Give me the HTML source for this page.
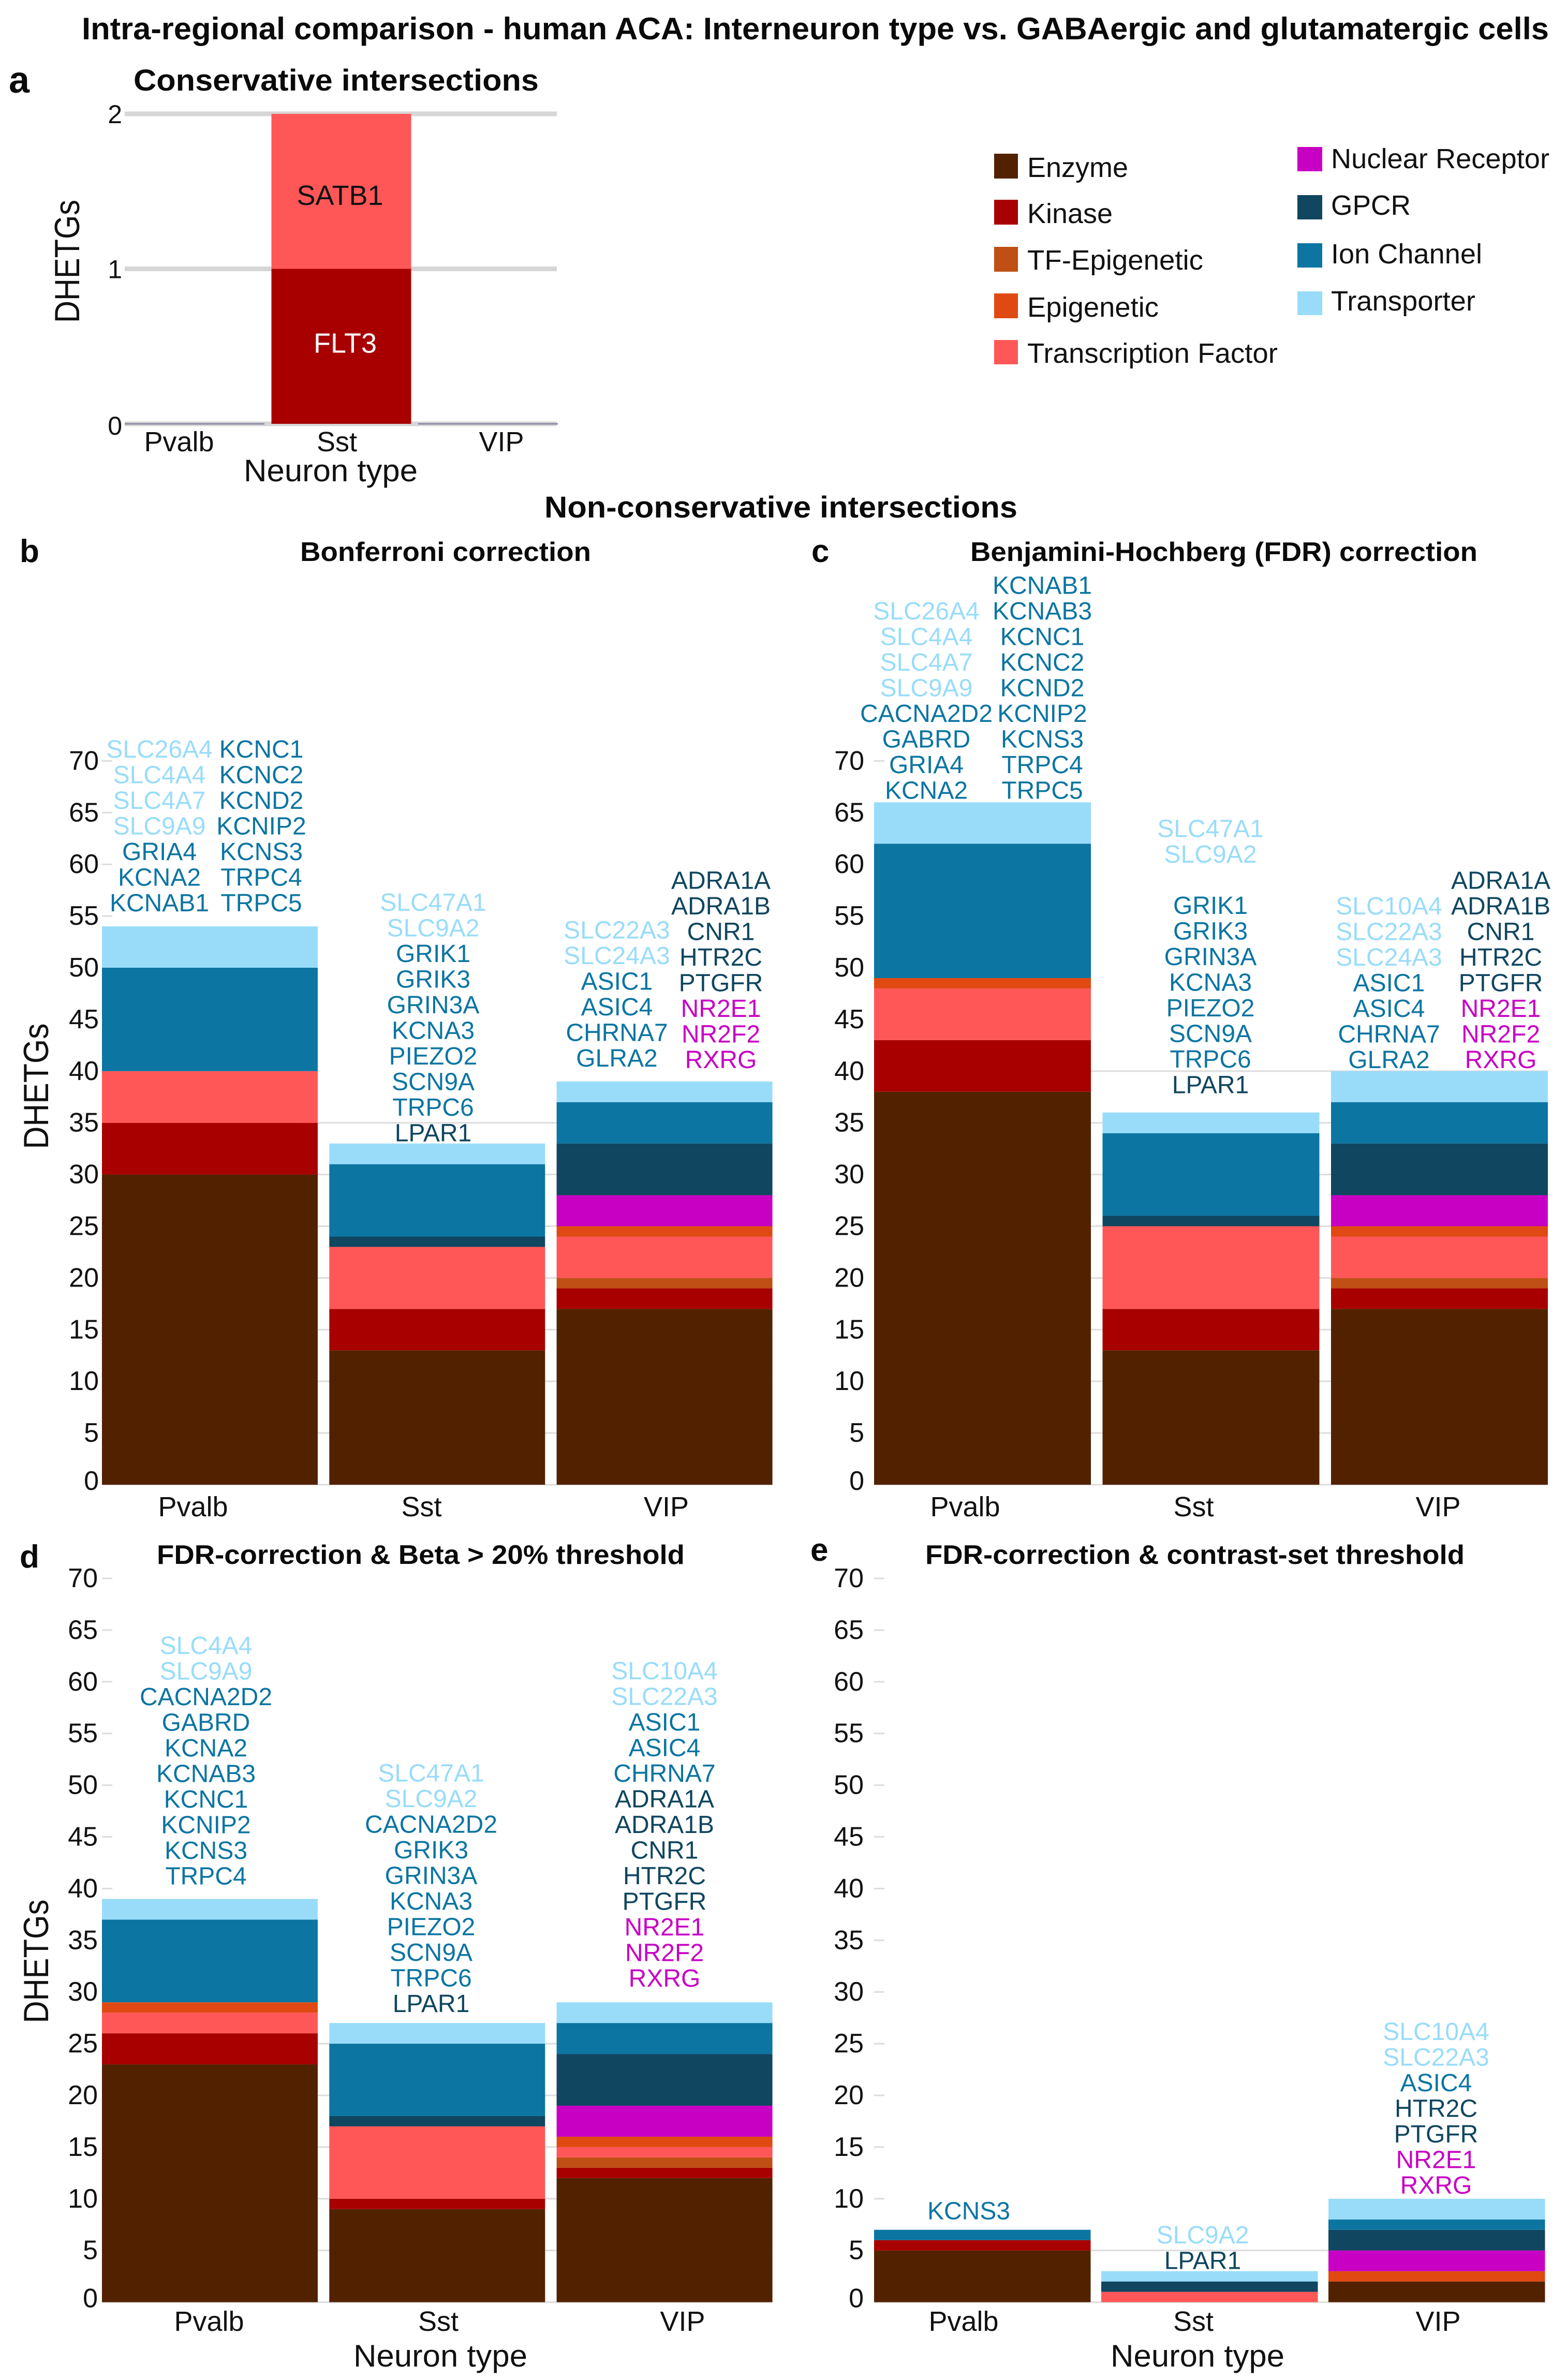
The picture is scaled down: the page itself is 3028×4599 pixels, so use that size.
<!DOCTYPE html>
<html lang="en">
<head>
<meta charset="utf-8">
<title>Intra-regional comparison - human ACA</title>
<style>
html,body{margin:0;padding:0;background:#fff;}
svg{display:block;font-family:"Liberation Sans",Arial,sans-serif;}
.ttl{font-weight:700;fill:#0a0a0a;}
.leg{font-size:54px;fill:#111;}
</style>
</head>
<body>
<svg id="figure" xmlns="http://www.w3.org/2000/svg" width="3028" height="4599" viewBox="0 0 3028 4599">
<rect x="0" y="0" width="3028" height="4599" fill="#ffffff"/>
<text class="ttl" x="158" y="76" font-size="60" textLength="2835" lengthAdjust="spacingAndGlyphs">Intra-regional comparison - human ACA: Interneuron type vs. GABAergic and glutamatergic cells</text>
<text class="ttl" x="17" y="179" font-size="72">a</text>
<text class="ttl" x="258" y="175" font-size="58" textLength="783" lengthAdjust="spacingAndGlyphs">Conservative intersections</text>
<text class="ttl" x="1052" y="1000" font-size="58" textLength="914" lengthAdjust="spacingAndGlyphs">Non-conservative intersections</text>
<text class="ttl" x="38" y="1086" font-size="62">b</text>
<text class="ttl" x="580" y="1084" font-size="52" textLength="562" lengthAdjust="spacingAndGlyphs">Bonferroni correction</text>
<text class="ttl" x="1568" y="1086" font-size="62">c</text>
<text class="ttl" x="1875" y="1084" font-size="52" textLength="980" lengthAdjust="spacingAndGlyphs">Benjamini-Hochberg (FDR) correction</text>
<text class="ttl" x="38" y="3029" font-size="62">d</text>
<text class="ttl" x="303" y="3022" font-size="52" textLength="1020" lengthAdjust="spacingAndGlyphs">FDR-correction &amp; Beta &gt; 20% threshold</text>
<text class="ttl" x="1566" y="3016" font-size="62">e</text>
<text class="ttl" x="1788" y="3022" font-size="52" textLength="1042" lengthAdjust="spacingAndGlyphs">FDR-correction &amp; contrast-set threshold</text>

<g>
<rect x="1921" y="297" width="46" height="48" fill="#522200"/>
<text class="leg" x="1985" y="342" textLength="195" lengthAdjust="spacingAndGlyphs">Enzyme</text>
<rect x="1921" y="386" width="46" height="48" fill="#a80000"/>
<text class="leg" x="1985" y="431" textLength="165" lengthAdjust="spacingAndGlyphs">Kinase</text>
<rect x="1921" y="477" width="46" height="48" fill="#bf4f14"/>
<text class="leg" x="1985" y="521" textLength="340" lengthAdjust="spacingAndGlyphs">TF-Epigenetic</text>
<rect x="1921" y="567" width="46" height="48" fill="#e04a12"/>
<text class="leg" x="1985" y="612" textLength="254" lengthAdjust="spacingAndGlyphs">Epigenetic</text>
<rect x="1921" y="657" width="46" height="47" fill="#ff5757"/>
<text class="leg" x="1985" y="701" textLength="484" lengthAdjust="spacingAndGlyphs">Transcription Factor</text>
<rect x="2507" y="284" width="48" height="47" fill="#c800c4"/>
<text class="leg" x="2572" y="325" textLength="422" lengthAdjust="spacingAndGlyphs">Nuclear Receptor</text>
<rect x="2507" y="377" width="48" height="47" fill="#10465f"/>
<text class="leg" x="2572" y="415" textLength="154" lengthAdjust="spacingAndGlyphs">GPCR</text>
<rect x="2507" y="470" width="48" height="47" fill="#0c75a2"/>
<text class="leg" x="2572" y="509" textLength="292" lengthAdjust="spacingAndGlyphs">Ion Channel</text>
<rect x="2507" y="563" width="48" height="46" fill="#99dcfa"/>
<text class="leg" x="2572" y="600" textLength="279" lengthAdjust="spacingAndGlyphs">Transporter</text>
</g>
</svg>

<script>
// ---------- shared data ----------
const categories = ['Pvalb', 'Sst', 'VIP'];
const classNames = ['Enzyme', 'Kinase', 'TF-Epigenetic', 'Transcription Factor', 'Epigenetic', 'Nuclear Receptor', 'GPCR', 'Ion Channel', 'Transporter'];
const classColors = ['#522200', '#a80000', '#bf4f14', '#ff5757', '#e04a12', '#c800c4', '#10465f', '#0c75a2', '#99dcfa'];
const tickLabels = [0, 5, 10, 15, 20, 25, 30, 35, 40, 45, 50, 55, 60, 65, 70];
const aTickLabels = [0, 1, 2];

// ---------- panel a values (per class, bottom to top) ----------
const aPvalb = [0, 0, 0, 0, 0, 0, 0, 0, 0];
const aSst = [0, 1, 0, 1, 0, 0, 0, 0, 0];
const aVIP = [0, 0, 0, 0, 0, 0, 0, 0, 0];

// ---------- panel b values ----------
const bPvalb = [30, 5, 0, 5, 0, 0, 0, 10, 4];
const bSst = [13, 4, 0, 6, 0, 0, 1, 7, 2];
const bVIP = [17, 2, 1, 4, 1, 3, 5, 4, 2];

// ---------- panel c values ----------
const cPvalb = [38, 5, 0, 5, 1, 0, 0, 13, 4];
const cSst = [13, 4, 0, 8, 0, 0, 1, 8, 2];
const cVIP = [17, 2, 1, 4, 1, 3, 5, 4, 3];

// ---------- panel d values ----------
const dPvalb = [23, 3, 0, 2, 1, 0, 0, 8, 2];
const dSst = [9, 1, 0, 7, 0, 0, 1, 7, 2];
const dVIP = [12, 1, 1, 1, 1, 3, 5, 3, 2];

// ---------- panel e values ----------
const ePvalb = [5, 1, 0, 0, 0, 0, 0, 1, 0];
const eSst = [0, 0, 0, 1, 0, 0, 1, 0, 1];
const eVIP = [2, 0, 0, 0, 1, 2, 2, 1, 2];

// ---------- gene classes (for label colour) ----------
const transporterGenes = ['SLC26A4', 'SLC4A4', 'SLC4A7', 'SLC9A9', 'SLC47A1', 'SLC9A2', 'SLC22A3', 'SLC24A3', 'SLC10A4'];
const gpcrGenes = ['LPAR1', 'ADRA1A', 'ADRA1B', 'CNR1', 'HTR2C', 'PTGFR'];
const nuclearGenes = ['NR2E1', 'NR2F2', 'RXRG'];

// ---------- gene labels ----------
const bPvalbGenesA = ['SLC26A4', 'SLC4A4', 'SLC4A7', 'SLC9A9', 'GRIA4', 'KCNA2', 'KCNAB1'];
const bPvalbGenesB = ['KCNC1', 'KCNC2', 'KCND2', 'KCNIP2', 'KCNS3', 'TRPC4', 'TRPC5'];
const bSstGenes = ['SLC47A1', 'SLC9A2', 'GRIK1', 'GRIK3', 'GRIN3A', 'KCNA3', 'PIEZO2', 'SCN9A', 'TRPC6', 'LPAR1'];
const bVIPGenesA = ['SLC22A3', 'SLC24A3', 'ASIC1', 'ASIC4', 'CHRNA7', 'GLRA2'];
const bVIPGenesB = ['ADRA1A', 'ADRA1B', 'CNR1', 'HTR2C', 'PTGFR', 'NR2E1', 'NR2F2', 'RXRG'];

const cPvalbGenesA = ['SLC26A4', 'SLC4A4', 'SLC4A7', 'SLC9A9', 'CACNA2D2', 'GABRD', 'GRIA4', 'KCNA2'];
const cPvalbGenesB = ['KCNAB1', 'KCNAB3', 'KCNC1', 'KCNC2', 'KCND2', 'KCNIP2', 'KCNS3', 'TRPC4', 'TRPC5'];
const cSstGenes = ['SLC47A1', 'SLC9A2', '', 'GRIK1', 'GRIK3', 'GRIN3A', 'KCNA3', 'PIEZO2', 'SCN9A', 'TRPC6', 'LPAR1'];
const cVIPGenesA = ['SLC10A4', 'SLC22A3', 'SLC24A3', 'ASIC1', 'ASIC4', 'CHRNA7', 'GLRA2'];
const cVIPGenesB = ['ADRA1A', 'ADRA1B', 'CNR1', 'HTR2C', 'PTGFR', 'NR2E1', 'NR2F2', 'RXRG'];

const dPvalbGenes = ['SLC4A4', 'SLC9A9', 'CACNA2D2', 'GABRD', 'KCNA2', 'KCNAB3', 'KCNC1', 'KCNIP2', 'KCNS3', 'TRPC4'];
const dSstGenes = ['SLC47A1', 'SLC9A2', 'CACNA2D2', 'GRIK3', 'GRIN3A', 'KCNA3', 'PIEZO2', 'SCN9A', 'TRPC6', 'LPAR1'];
const dVIPGenes = ['SLC10A4', 'SLC22A3', 'ASIC1', 'ASIC4', 'CHRNA7', 'ADRA1A', 'ADRA1B', 'CNR1', 'HTR2C', 'PTGFR', 'NR2E1', 'NR2F2', 'RXRG'];

const ePvalbGenes = ['KCNS3'];
const eSstGenes = ['SLC9A2', 'LPAR1'];
const eVIPGenes = ['SLC10A4', 'SLC22A3', 'ASIC4', 'HTR2C', 'PTGFR', 'NR2E1', 'RXRG'];

// ---------- helpers ----------
const SVGNS = 'http://www.w3.org/2000/svg';
const fig = document.getElementById('figure');

function sum(a) { return a.reduce(function (s, v) { return s + v; }, 0); }
function slug(s) { return s.toLowerCase().replace(/[^a-z0-9]+/g, '-'); }

function geneColor(g) {
  if (transporterGenes.indexOf(g) >= 0) return classColors[8];
  if (gpcrGenes.indexOf(g) >= 0) return classColors[6];
  if (nuclearGenes.indexOf(g) >= 0) return classColors[5];
  return classColors[7];
}

function rect(parent, x, y, w, h, fill, name) {
  const el = document.createElementNS(SVGNS, 'rect');
  el.setAttribute('x', x);
  el.setAttribute('y', y);
  el.setAttribute('width', w);
  el.setAttribute('height', h);
  el.setAttribute('fill', fill);
  
  
  parent.appendChild(el);
  return el;
}

function text(parent, x, y, str, size, fill, anchor, name) {
  const el = document.createElementNS(SVGNS, 'text');
  el.setAttribute('x', x);
  el.setAttribute('y', y);
  el.setAttribute('font-size', size);
  el.setAttribute('fill', fill);
  el.setAttribute('text-anchor', anchor);
  
  
  el.textContent = str;
  parent.appendChild(el);
  return el;
}

function neuronTitle(parent, x, y, len) {
  const el = text(parent, x, y, 'Neuron type', 60, '#111', 'middle', 'x-axis-title');
  el.setAttribute('textLength', len);
  el.setAttribute('lengthAdjust', 'spacingAndGlyphs');
}

function yAxisTitle(parent, x, yMid, len) {
  const el = text(parent, 0, 0, 'DHETGs', 68, '#111', 'middle', 'y-axis-title');
  el.setAttribute('transform', 'translate(' + x + ',' + yMid + ') rotate(-90)');
  el.setAttribute('textLength', len);
  el.setAttribute('lengthAdjust', 'spacingAndGlyphs');
}

function drawPanel(p) {
  const g = document.createElementNS(SVGNS, 'g');
  
  
  fig.appendChild(g);

  const yScale = function (v) { return p.y0 - v * p.unit; };
  const xBand = function (i) { return p.left + i * (p.bandW + p.gap); };
  const right = xBand(categories.length - 1) + p.bandW;

  // grid lines and tick marks
  tickLabels.forEach(function (t) {
    const w = t <= p.gridTop ? right - p.left : 20;
    rect(g, p.left, yScale(t) - 1.5, w, 3, '#dcdcdc', 'gridline-' + t);
    text(g, p.tickRight, yScale(t) + (t === 0 ? 10 : 17), String(t), 52, '#111', 'end', 'y-tick-label-' + t);
  });

  // stacked bars
  p.values.forEach(function (vals, i) {
    let cum = 0;
    vals.forEach(function (v, c) {
      if (v <= 0) return;
      const top = yScale(cum + v);
      rect(g, xBand(i), top, p.bandW, yScale(cum) - top, classColors[c], 'bar-' + slug(categories[i]) + '-' + slug(classNames[c]));
      cum += v;
    });
  });

  // gene label columns, anchored to the bar top
  p.columns.forEach(function (col) {
    const total = sum(p.values[col.bar]);
    const last = yScale(total) - col.offset;
    col.genes.forEach(function (gene, r) {
      if (!gene) return;
      const y = last - (col.genes.length - 1 - r) * 49.5;
      text(g, col.cx, y, gene, 48, geneColor(gene), 'middle', 'gene-label-' + slug(gene));
    });
  });

  // category labels
  categories.forEach(function (c, i) {
    text(g, p.catX[i], p.catY, c, 54, '#111', 'middle', 'x-tick-label-' + slug(c));
  });

  if (p.xTitle) {
    neuronTitle(g, p.xTitle[0], 4573, p.xTitle[1]);
  }
  if (p.yTitle) {
    yAxisTitle(g, 93, p.yTitle[0], p.yTitle[1]);
  }
}

// ---------- panel a ----------
function drawPanelA() {
  const g = document.createElementNS(SVGNS, 'g');
  
  
  fig.appendChild(g);

  const y0 = 819, unit = 299.5, left = 241, right = 1076, bandW = 270, gap = 13.5;
  const yScale = function (v) { return y0 - v * unit; };
  const xBand = function (i) { return left + i * (bandW + gap); };

  aTickLabels.forEach(function (t) {
    rect(g, left, yScale(t) - 4.5, right - left, 9, '#d6d6d6', 'gridline-' + t);
    text(g, 236, yScale(t) + (t === 0 ? 21 : 18), String(t), 50, '#111', 'end', 'y-tick-label-' + t);
  });

  const aRows = [aPvalb, aSst, aVIP];
  aRows.forEach(function (vals, i) {
    if (sum(vals) === 0) {
      rect(g, xBand(i), y0 - 1.5, bandW, 3, '#8d89a8', 'bar-' + slug(categories[i]) + '-empty');
      return;
    }
    let cum = 0;
    vals.forEach(function (v, c) {
      if (v <= 0) return;
      const top = yScale(cum + v);
      rect(g, xBand(i), top, bandW, yScale(cum) - top, classColors[c], 'bar-' + slug(categories[i]) + '-' + slug(classNames[c]));
      cum += v;
    });
  });

  text(g, 657, yScale(1.5) + 26, 'SATB1', 54, '#111', 'middle', 'gene-label-satb1');
  text(g, 667, yScale(0.5) + 12, 'FLT3', 54, '#fff', 'middle', 'gene-label-flt3');

  const aCatX = [346, 651, 969];
  categories.forEach(function (c, i) {
    text(g, aCatX[i], 872, c, 54, '#111', 'middle', 'x-tick-label-' + slug(c));
  });
  neuronTitle(g, 639, 930, 336);
  yAxisTitle(g, 153, 505, 238);
}

drawPanelA();

drawPanel({
  id: 'b', y0: 2869, unit: 19.98, left: 197, bandW: 417, gap: 22.3, gridTop: 35, tickRight: 191,
  catX: [373, 814.5, 1287.5], catY: 2930, yTitle: [2099, 243],
  values: [bPvalb, bSst, bVIP],
  columns: [
    { bar: 0, cx: 308, offset: 29, genes: bPvalbGenesA },
    { bar: 0, cx: 505, offset: 29, genes: bPvalbGenesB },
    { bar: 1, cx: 837, offset: 4, genes: bSstGenes },
    { bar: 2, cx: 1192, offset: 29, genes: bVIPGenesA },
    { bar: 2, cx: 1393, offset: 26, genes: bVIPGenesB }
  ]
});

drawPanel({
  id: 'c', y0: 2869, unit: 19.98, left: 1689, bandW: 419, gap: 22.5, gridTop: 40, tickRight: 1670,
  catX: [1865, 2306.5, 2779], catY: 2930,
  values: [cPvalb, cSst, cVIP],
  columns: [
    { bar: 0, cx: 1790, offset: 7, genes: cPvalbGenesA },
    { bar: 0, cx: 2014, offset: 7, genes: cPvalbGenesB },
    { bar: 1, cx: 2339, offset: 37, genes: cSstGenes },
    { bar: 2, cx: 2684, offset: 6, genes: cVIPGenesA },
    { bar: 2, cx: 2900, offset: 6, genes: cVIPGenesB }
  ]
});

drawPanel({
  id: 'd', y0: 4448.6, unit: 19.98, left: 197, bandW: 417, gap: 22.3, gridTop: 25, tickRight: 189,
  catX: [404, 847, 1319], catY: 4504, xTitle: [851, 336], yTitle: [3790, 239],
  values: [dPvalb, dSst, dVIP],
  columns: [
    { bar: 0, cx: 398, offset: 28, genes: dPvalbGenes },
    { bar: 1, cx: 833, offset: 21, genes: dSstGenes },
    { bar: 2, cx: 1284, offset: 30, genes: dVIPGenes }
  ]
});

drawPanel({
  id: 'e', y0: 4448.6, unit: 19.98, left: 1689, bandW: 418.5, gap: 20.5, gridTop: 5, tickRight: 1669,
  catX: [1862, 2306, 2779], catY: 4504, xTitle: [2314, 336],
  values: [ePvalb, eSst, eVIP],
  columns: [
    { bar: 0, cx: 1872, offset: 20, genes: ePvalbGenes },
    { bar: 1, cx: 2324, offset: 4, genes: eSstGenes },
    { bar: 2, cx: 2775, offset: 10, genes: eVIPGenes }
  ]
});
</script>
</body>
</html>
